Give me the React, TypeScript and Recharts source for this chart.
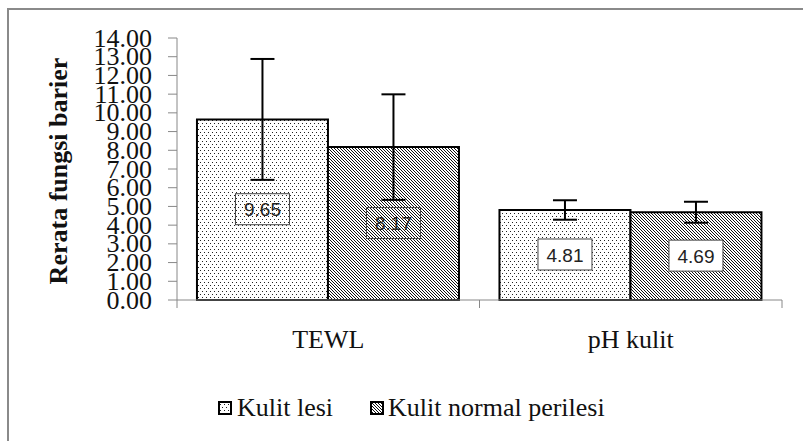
import React from 'react';
import { BarChart, Bar, XAxis, YAxis, ErrorBar, LabelList, Legend } from 'recharts';

// values
const categories = ['TEWL', 'pH kulit'];
const kulitLesi = [9.65, 4.81];
const kulitNormal = [8.17, 4.69];
const errLesi = [3.23, 0.52];
const errNormal = [2.82, 0.56];
const yTicks = [0, 1, 2, 3, 4, 5, 6, 7, 8, 9, 10, 11, 12, 13, 14];

const seriesNames = { lesi: 'Kulit lesi', normal: 'Kulit normal perilesi' };

const data = categories.map((name, i) => ({
  name,
  lesi: kulitLesi[i],
  normal: kulitNormal[i],
  errLesi: errLesi[i],
  errNormal: errNormal[i],
}));

const W = 803;
const H = 441;
const PLOT_LEFT = 177;
const PLOT_RIGHT = 21;
const PLOT_TOP = 38;
const HALF_BAND = (W - PLOT_LEFT - PLOT_RIGHT) / categories.length / 2;

const SERIF = '"Liberation Serif", "Times New Roman", serif';
const SANS = '"Liberation Sans", Arial, sans-serif';

// category tick: label plus tick marks on the category borders
const CategoryTick = (props: any) => {
  const { x, y, payload } = props;
  return (
    <g>
      <line x1={x - HALF_BAND} y1={y} x2={x - HALF_BAND} y2={y + 8} stroke="#888" />
      <line x1={x + HALF_BAND} y1={y} x2={x + HALF_BAND} y2={y + 8} stroke="#888" />
      <text x={x} y={y + 48} textAnchor="middle" style={{ fontFamily: SERIF, fontSize: 26 }} fill="#111">
        {payload.value}
      </text>
    </g>
  );
};

const ValueTick = (props: any) => {
  const { x, y, payload } = props;
  return (
    <text x={x} y={y} dy="0.33em" textAnchor="end" style={{ fontFamily: SERIF, fontSize: 26 }} fill="#111">
      {payload.value.toFixed(2)}
    </text>
  );
};

// boxed value label in the middle of each bar
const boxedLabel = (boxFill: (index: number) => string) => (props: any) => {
  const { x, y, width, height, value, index } = props;
  const cx = x + width / 2;
  const cy = y + height / 2;
  return (
    <g>
      <rect x={cx - 27} y={cy - 16} width={54} height={31} fill={boxFill(index)} stroke="#444" strokeWidth={1} />
      <text x={cx} y={cy} dy="0.35em" textAnchor="middle" style={{ fontFamily: SANS, fontSize: 19 }} fill="#222">
        {value.toFixed(2)}
      </text>
    </g>
  );
};

const labelFill = (index: number) => (index === 0 ? 'none' : '#fff');

const LegendIcon = ({ fill }: { fill: string }) => (
  <svg width={14} height={14} style={{ display: 'block' }}>
    <rect x={1} y={1} width={12} height={12} fill={fill} stroke="#000" strokeWidth={2} />
  </svg>
);

const renderLegend = () => (
  <div
    style={{
      width: W,
      height: 50,
      boxSizing: 'border-box',
      paddingLeft: 218,
      paddingBottom: 16,
      display: 'flex',
      alignItems: 'center',
      fontFamily: SERIF,
      fontSize: 26,
      color: '#111',
    }}
  >
    <LegendIcon fill="url(#dots)" />
    <span style={{ marginLeft: 5, marginRight: 37 }}>{seriesNames.lesi}</span>
    <LegendIcon fill="url(#hatch)" />
    <span style={{ marginLeft: 4 }}>{seriesNames.normal}</span>
  </div>
);

export default function App() {
  return (
    <div style={{ position: 'absolute', left: 0, top: 0, width: W, height: H, background: '#fff', overflow: 'hidden' }}>
      <div
        style={{
          position: 'absolute',
          left: 7,
          top: 8,
          right: -10,
          bottom: -10,
          borderTop: '2px solid #8a8a8a',
          borderLeft: '2px solid #8a8a8a',
        }}
      />
      <div style={{ position: 'absolute', left: 0, top: 0 }}>
        <BarChart
          width={W}
          height={H}
          data={data}
          margin={{ top: PLOT_TOP, right: PLOT_RIGHT, left: 0, bottom: 0 }}
          barGap={0}
          barCategoryGap="6.6%"
        >
          <defs>
            <pattern id="dots" patternUnits="userSpaceOnUse" width={4} height={6}>
              <rect width={4} height={6} fill="#fff" />
              <rect x={0} y={0} width={1} height={1} fill="#222" />
              <rect x={2} y={3} width={1} height={1} fill="#222" />
            </pattern>
            <pattern id="hatch" patternUnits="userSpaceOnUse" width={3} height={3}>
              <rect width={3} height={3} fill="#fff" />
              <path d="M-1,-1 L4,4 M-1,2 L1,4 M2,-1 L4,1" stroke="#111" strokeWidth={1} />
            </pattern>
          </defs>
          <XAxis
            dataKey="name"
            height={91}
            axisLine={{ stroke: '#888' }}
            tickLine={false}
            tickSize={0}
            tickMargin={0}
            tick={<CategoryTick />}
            interval={0}
          />
          <YAxis
            width={PLOT_LEFT}
            domain={[0, 14]}
            ticks={yTicks}
            interval={0}
            axisLine={{ stroke: '#888' }}
            tickLine={{ stroke: '#888' }}
            tickSize={9}
            tickMargin={16}
            tick={<ValueTick />}
            label={() => (
              <text
                x={58}
                y={171}
                transform="rotate(-90, 58, 171)"
                textAnchor="middle"
                dominantBaseline="central"
                style={{ fontFamily: SERIF, fontSize: 26, fontWeight: 'bold' }}
                fill="#111"
              >
                Rerata fungsi barier
              </text>
            )}
          />
          <Legend verticalAlign="bottom" content={renderLegend} wrapperStyle={{ left: 0, width: W, bottom: 0 }} />
          <Bar dataKey="lesi" name={seriesNames.lesi} fill="url(#dots)" stroke="#000" strokeWidth={2} isAnimationActive={false}>
            <ErrorBar dataKey="errLesi" width={12} stroke="#000" strokeWidth={2} />
            <LabelList dataKey="lesi" content={boxedLabel(labelFill)} />
          </Bar>
          <Bar dataKey="normal" name={seriesNames.normal} fill="url(#hatch)" stroke="#000" strokeWidth={2} isAnimationActive={false}>
            <ErrorBar dataKey="errNormal" width={12} stroke="#000" strokeWidth={2} />
            <LabelList dataKey="normal" content={boxedLabel(labelFill)} />
          </Bar>
        </BarChart>
      </div>
    </div>
  );
}
